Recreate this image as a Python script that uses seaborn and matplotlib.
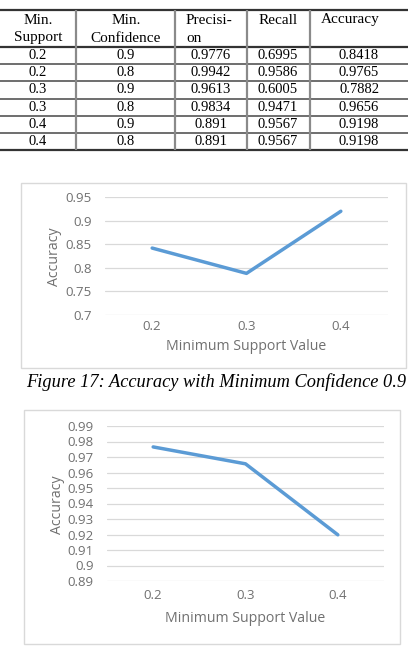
# ============================================================
# Accuracy table + two Excel-style line charts (page crop)
# ============================================================

import numpy as np
import pandas as pd
import matplotlib
matplotlib.use("Agg")
import matplotlib.pyplot as plt
import seaborn as sns
from matplotlib.patches import Rectangle
from matplotlib.ticker import FixedLocator, FixedFormatter

# =========================
# DATA
# =========================

HEADERS = [["Min.", "Support"], ["Min.", "Confidence"],
           ["Precisi-", "on"], ["Recall"], ["Accuracy"]]
MIN_SUPPORT = [0.2, 0.2, 0.3, 0.3, 0.4, 0.4]
MIN_CONFIDENCE = [0.9, 0.8, 0.9, 0.8, 0.9, 0.8]
PRECISION = [0.9776, 0.9942, 0.9613, 0.9834, 0.891, 0.891]
RECALL = [0.6995, 0.9586, 0.6005, 0.9471, 0.9567, 0.9567]
ACCURACY = [0.8418, 0.9765, 0.7882, 0.9656, 0.9198, 0.9198]

X_TICKS = [0.2, 0.3, 0.4]
Y_TICKS_09 = [0.7, 0.75, 0.8, 0.85, 0.9, 0.95]
Y_TICKS_08 = [0.89, 0.9, 0.91, 0.92, 0.93, 0.94, 0.95, 0.96, 0.97, 0.98, 0.99]

X_LABEL = "Minimum Support Value"
Y_LABEL = "Accuracy"
CAPTION = "Figure 17: Accuracy with Minimum Confidence 0.9"

# =========================
# CONFIG
# =========================

W, H = 408, 660
LINE_COLOR = "#5B9BD5"
GRID_COLOR = "#D9D9D9"
TEXT_COLOR = "#707070"
SERIF = "Liberation Serif"
SANS = "Open Sans"

# table geometry (pixels)
COL_EDGES = [76, 175, 247, 310]
HEADER_POS = [(38, "center"), (126, "center"), (186, "left"),
              (278, "center"), (321, "left")]
DATA_X = [38, 126, 211, 278, 359]
TABLE_TOP, HEADER_BOTTOM, TABLE_BOTTOM = 10, 47, 150


def fig_rect(x0, y0, x1, y1):
    """pixel box (top-left origin) -> figure fraction rect"""
    return [x0 / W, 1 - y1 / H, (x1 - x0) / W, (y1 - y0) / H]


def fmt(v):
    return f"{v:g}"

# =========================
# TABLE
# =========================

def draw_table(fig, df):
    ax = fig.add_axes(fig_rect(0, 0, W, 170))
    ax.set_xlim(0, W)
    ax.set_ylim(170, 0)
    ax.axis("off")

    n = len(df)
    row_h = (TABLE_BOTTOM - HEADER_BOTTOM) / n

    # horizontal rules
    ax.hlines([TABLE_TOP, HEADER_BOTTOM, TABLE_BOTTOM], 0, W, color="#333333", lw=1.6)
    ax.hlines([HEADER_BOTTOM + i * row_h for i in range(1, n)], 0, W,
              color="#555555", lw=1.2)
    # vertical rules
    ax.vlines(COL_EDGES, TABLE_TOP, TABLE_BOTTOM, color="#8a8a8a", lw=1.6)

    for (x, ha), lines in zip(HEADER_POS, HEADERS):
        for j, t in enumerate(lines):
            ax.text(x, 20 + j * 18, t, ha=ha, va="center",
                    fontfamily=SERIF, fontsize=11, color="black")

    cols = ["support", "confidence", "precision", "recall", "accuracy"]
    for i, row in df.iterrows():
        y = HEADER_BOTTOM + (i + 0.5) * row_h
        for x, c in zip(DATA_X, cols):
            ax.text(x, y, fmt(row[c]), ha="center", va="center",
                    fontfamily=SERIF, fontsize=10.5, color="black")

# =========================
# LINE CHARTS
# =========================

def draw_chart(fig, sub, box, plot, yticks, ypad, xpad, ylab_x, xlab_y):
    fig.add_artist(Rectangle((box[0], box[1]), box[2], box[3],
                             transform=fig.transFigure, fill=False,
                             edgecolor=GRID_COLOR, lw=1))
    ax = fig.add_axes(plot)
    sns.lineplot(data=sub, x="support", y="accuracy", ax=ax,
                 color=LINE_COLOR, linewidth=2.5, clip_on=False)

    ax.set_xlim(0.15, 0.45)
    ax.set_ylim(yticks[0], yticks[-1])
    ax.xaxis.set_major_locator(FixedLocator(X_TICKS))
    ax.xaxis.set_major_formatter(FixedFormatter([fmt(v) for v in X_TICKS]))
    ax.yaxis.set_major_locator(FixedLocator(yticks))
    ax.yaxis.set_major_formatter(FixedFormatter([fmt(v) for v in yticks]))

    ax.yaxis.grid(True, color=GRID_COLOR, lw=0.9)
    ax.xaxis.grid(False)
    ax.set_axisbelow(True)
    for s in ax.spines.values():
        s.set_visible(False)
    ax.tick_params(axis="y", length=0, pad=ypad, labelsize=9.5, labelcolor=TEXT_COLOR)
    ax.tick_params(axis="x", length=0, pad=xpad, labelsize=9.5, labelcolor=TEXT_COLOR)

    ax.set_xlabel("")
    ax.set_ylabel("")
    ax.text(0.5, xlab_y, X_LABEL, transform=ax.transAxes, ha="center",
            va="center", fontsize=10.2, color=TEXT_COLOR)
    ax.text(ylab_x, 0.49, Y_LABEL, transform=ax.transAxes, ha="center",
            va="center", rotation=90, fontsize=10.2, color=TEXT_COLOR)
    return ax

# =========================
# MAIN
# =========================

def main():
    sns.set_theme(style="white")
    plt.rcParams["font.family"] = [SANS, "DejaVu Sans"]

    df = pd.DataFrame({
        "support": MIN_SUPPORT,
        "confidence": MIN_CONFIDENCE,
        "precision": PRECISION,
        "recall": RECALL,
        "accuracy": ACCURACY,
    })

    fig = plt.figure(figsize=(W / 100, H / 100), dpi=100)
    fig.patch.set_facecolor("white")

    draw_table(fig, df)

    conf09 = df[np.isclose(df["confidence"], 0.9)]
    conf08 = df[np.isclose(df["confidence"], 0.8)]

    draw_chart(fig, conf09,
               box=fig_rect(21, 183, 406, 368),
               plot=fig_rect(105, 197, 388, 315),
               yticks=Y_TICKS_09, ypad=9.4, xpad=3.8,
               ylab_x=-0.177, xlab_y=-0.27)

    fig.text(216.5 / W, 1 - 382 / H, CAPTION, ha="center", va="center",
             fontfamily=SERIF, style="italic", fontsize=13.2, color="black")

    draw_chart(fig, conf08,
               box=fig_rect(24, 410, 400, 644),
               plot=fig_rect(107, 426, 384, 581),
               yticks=Y_TICKS_08, ypad=9.4, xpad=6.0,
               ylab_x=-0.18, xlab_y=-0.245)

    fig.savefig("out.png", dpi=100, facecolor="white")
    plt.close(fig)


if __name__ == "__main__":
    main()
